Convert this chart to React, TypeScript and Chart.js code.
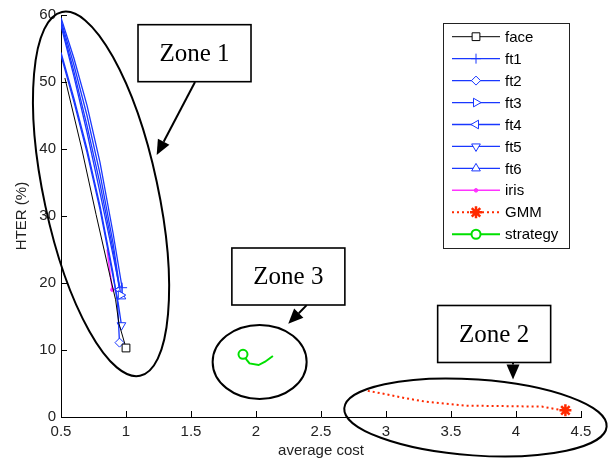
import React, { useEffect, useRef } from 'react';
import { Chart, registerables } from 'chart.js';
import { drawPoint } from 'chart.js/helpers';

Chart.register(...registerables);

// ---------- data ----------
const xTickValues = [0.5, 1, 1.5, 2, 2.5, 3, 3.5, 4, 4.5];
const yTickValues = [0, 10, 20, 30, 40, 50, 60];
const xTitle = 'average cost';
const yTitle = 'HTER (%)';

const faceX = [0.53, 0.66, 0.77, 0.88, 0.92, 0.945, 1.0];
const faceY = [50.6, 40.0, 30.2, 20.8, 17.5, 14.0, 10.3];

const ft1X = [0.5, 0.6, 0.7, 0.8, 0.9, 0.97];
const ft1Y = [59.6, 53.5, 46.5, 38, 27.5, 19.3];

const ft2X = [0.5, 0.6, 0.7, 0.8, 0.9, 0.935, 0.95];
const ft2Y = [54.4, 47.5, 40, 31.5, 21.5, 17, 11.1];

const ft3X = [0.5, 0.6, 0.7, 0.8, 0.9, 0.96];
const ft3Y = [59.2, 52.5, 45, 36.3, 26, 18.2];

const ft4X = [0.5, 0.6, 0.7, 0.8, 0.9, 0.95];
const ft4Y = [58.8, 51.5, 43.5, 34.8, 25, 19.0];

const ft5X = [0.5, 0.6, 0.7, 0.8, 0.9, 0.94, 0.965];
const ft5Y = [54.0, 47, 39.5, 31, 21, 17, 13.7];

const ft6X = [0.5, 0.6, 0.7, 0.8, 0.9, 0.965];
const ft6Y = [58.4, 50.8, 42.5, 33.5, 24.2, 18.0];

const irisX = [0.855, 0.875, 0.895];
const irisY = [25.0, 21.8, 19.0];

const gmmX = [2.86, 3.0, 3.15, 3.3, 3.45, 3.6, 3.8, 4.0, 4.2, 4.3, 4.38];
const gmmY = [3.9, 3.4, 2.8, 2.3, 2.0, 1.7, 1.65, 1.6, 1.55, 1.2, 1.0];

const strategyX = [1.9, 1.93, 1.95, 2.02, 2.07, 2.13];
const strategyY = [9.35, 8.5, 8.0, 7.75, 8.25, 9.1];

const zoneLabels = ['Zone 1', 'Zone 2', 'Zone 3'];

// ---------- styles / annotation geometry ----------
const BLUE = 'rgb(25,55,255)';
const zip = (xs: number[], ys: number[]) => xs.map((x, i) => ({ x, y: ys[i] }));

function series(label: string, xs: number[], ys: number[], st: any) {
  const markIdx = st.markAt === 'first' ? 0 : xs.length - 1;
  return {
    label,
    data: zip(xs, ys),
    borderColor: st.color,
    backgroundColor: st.fill,
    borderWidth: st.lineWidth,
    borderDash: st.dash || [],
    pointStyle: st.marker,
    pointRotation: st.rotation || 0,
    pointBorderColor: st.color,
    pointBackgroundColor: st.fill,
    pointBorderWidth: st.markerWidth,
    pointRadius: (c: any) => (c.dataIndex === markIdx ? st.radius : 0),
    pointHoverRadius: 0,
    markerRadius: st.radius,
    tension: 0,
    fill: false,
  };
}

const datasets = [
  series('face', faceX, faceY, { color: '#000', fill: '#fff', lineWidth: 1, marker: 'rect', radius: 5.5, markerWidth: 1 }),
  series('ft1', ft1X, ft1Y, { color: BLUE, fill: BLUE, lineWidth: 1.3, marker: 'cross', radius: 5, markerWidth: 1 }),
  series('ft2', ft2X, ft2Y, { color: BLUE, fill: '#fff', lineWidth: 1.3, marker: 'rectRot', radius: 4.5, markerWidth: 1 }),
  series('ft3', ft3X, ft3Y, { color: BLUE, fill: '#fff', lineWidth: 1.3, marker: 'triangle', rotation: 90, radius: 5, markerWidth: 1 }),
  series('ft4', ft4X, ft4Y, { color: BLUE, fill: '#fff', lineWidth: 1.3, marker: 'triangle', rotation: -90, radius: 5, markerWidth: 1 }),
  series('ft5', ft5X, ft5Y, { color: BLUE, fill: '#fff', lineWidth: 1.3, marker: 'triangle', rotation: 180, radius: 5, markerWidth: 1 }),
  series('ft6', ft6X, ft6Y, { color: BLUE, fill: '#fff', lineWidth: 1.3, marker: 'triangle', rotation: 0, radius: 5, markerWidth: 1 }),
  series('iris', irisX, irisY, { color: '#ff33ff', fill: '#ff33ff', lineWidth: 1.5, marker: 'circle', radius: 1.8, markerWidth: 1 }),
  series('GMM', gmmX, gmmY, { color: '#ff2a00', fill: '#ff2a00', lineWidth: 2, dash: [2, 3], marker: 'star', radius: 6, markerWidth: 2.5 }),
  series('strategy', strategyX, strategyY, { color: '#00e000', fill: '#fff', lineWidth: 2, marker: 'circle', radius: 4.5, markerWidth: 2, markAt: 'first' }),
];

// annotations: box centre & arrow in data units, sizes in px
const zoneBoxes = [
  { cx: 1.527, cy: 54.3, fromX: 1.531, fromY: 50.0, toX: 1.236, toY: 39.1 },
  { cx: 3.832, cy: 12.39, fromX: 3.977, fromY: 8.16, toX: 3.977, toY: 5.6 },
  { cx: 2.249, cy: 20.97, fromX: 2.39, fromY: 16.7, toX: 2.248, toY: 13.9 },
];
const zoneEllipses = [
  { cx: 0.808, cy: 33.3, rx: 186, ry: 57, rot: 77.9 },
  { cx: 3.688, cy: -0.07, rx: 131.5, ry: 38, rot: 4 },
  { cx: 2.028, cy: 8.21, rx: 47, ry: 37, rot: 0 },
];

const inwardTicks = {
  id: 'inwardTicks',
  afterDraw(chart: any) {
    const { ctx, chartArea, scales } = chart;
    const x = scales.x, y = scales.y;
    ctx.save();
    ctx.strokeStyle = '#000';
    ctx.lineWidth = 1;
    x.ticks.forEach((t: any) => {
      const px = Math.round(x.getPixelForValue(t.value)) + 0.5;
      ctx.beginPath();
      ctx.moveTo(px, chartArea.bottom);
      ctx.lineTo(px, chartArea.bottom - 6);
      ctx.stroke();
    });
    y.ticks.forEach((t: any) => {
      const py = Math.round(y.getPixelForValue(t.value)) + 0.5;
      ctx.beginPath();
      ctx.moveTo(chartArea.left, py);
      ctx.lineTo(chartArea.left + 6, py);
      ctx.stroke();
    });
    ctx.restore();
  },
};

function arrow(ctx: any, x1: number, y1: number, x2: number, y2: number) {
  const ang = Math.atan2(y2 - y1, x2 - x1);
  const len = 15, hw = 6.5;
  const bx = x2 - Math.cos(ang) * len, by = y2 - Math.sin(ang) * len;
  ctx.beginPath();
  ctx.moveTo(x1, y1);
  ctx.lineTo(bx, by);
  ctx.stroke();
  ctx.beginPath();
  ctx.moveTo(x2, y2);
  ctx.lineTo(bx + Math.sin(ang) * hw, by - Math.cos(ang) * hw);
  ctx.lineTo(bx - Math.sin(ang) * hw, by + Math.cos(ang) * hw);
  ctx.closePath();
  ctx.fill();
}

const zonesPlugin = {
  id: 'zones',
  afterDraw(chart: any) {
    const { ctx, scales } = chart;
    const x = scales.x, y = scales.y;
    ctx.save();
    ctx.strokeStyle = '#000';
    ctx.fillStyle = '#000';
    ctx.lineWidth = 2;
    zoneEllipses.forEach((e) => {
      ctx.beginPath();
      ctx.ellipse(x.getPixelForValue(e.cx), y.getPixelForValue(e.cy), e.rx, e.ry, (e.rot * Math.PI) / 180, 0, Math.PI * 2);
      ctx.stroke();
    });
    zoneBoxes.forEach((b, i) => {
      const cx = x.getPixelForValue(b.cx), cy = y.getPixelForValue(b.cy);
      const w = 113, h = 57;
      ctx.lineWidth = 2;
      arrow(ctx, x.getPixelForValue(b.fromX), y.getPixelForValue(b.fromY), x.getPixelForValue(b.toX), y.getPixelForValue(b.toY));
      ctx.fillStyle = '#fff';
      ctx.fillRect(cx - w / 2, cy - h / 2, w, h);
      ctx.lineWidth = 1.6;
      ctx.strokeRect(cx - w / 2, cy - h / 2, w, h);
      ctx.fillStyle = '#000';
      ctx.font = '25px "Liberation Serif"';
      ctx.textAlign = 'center';
      ctx.textBaseline = 'middle';
      ctx.fillText(zoneLabels[i], cx, cy + 1);
    });
    ctx.restore();
  },
};

const legendPlugin = {
  id: 'matlabLegend',
  afterDraw(chart: any) {
    const { ctx, chartArea } = chart;
    const w = 126, h = 225;
    const left = chartArea.right - 12 - w;
    const top = chartArea.top + 8;
    ctx.save();
    ctx.fillStyle = '#fff';
    ctx.fillRect(left, top, w, h);
    ctx.strokeStyle = '#222';
    ctx.lineWidth = 1;
    ctx.strokeRect(left + 0.5, top + 0.5, w, h);
    chart.data.datasets.forEach((ds: any, i: number) => {
      const yy = top + 13.7 + i * 21.95;
      ctx.save();
      ctx.strokeStyle = ds.borderColor;
      ctx.lineWidth = ds.borderWidth;
      ctx.setLineDash(ds.borderDash || []);
      ctx.beginPath();
      ctx.moveTo(left + 9, yy);
      ctx.lineTo(left + 57, yy);
      ctx.stroke();
      ctx.setLineDash([]);
      ctx.strokeStyle = ds.pointBorderColor;
      ctx.fillStyle = ds.pointBackgroundColor;
      ctx.lineWidth = ds.pointBorderWidth;
      drawPoint(ctx, { pointStyle: ds.pointStyle, rotation: ds.pointRotation, radius: ds.markerRadius, borderWidth: ds.pointBorderWidth } as any, left + 33, yy);
      ctx.restore();
      ctx.fillStyle = '#000';
      ctx.font = '15px "Liberation Sans"';
      ctx.textAlign = 'left';
      ctx.textBaseline = 'middle';
      ctx.fillText(ds.label, left + 62, yy + 1);
    });
    ctx.restore();
  },
};

export default function App() {
  const ref = useRef<HTMLCanvasElement>(null);
  useEffect(() => {
    if (!ref.current) return;
    Chart.defaults.font.family = '"Liberation Sans", Arial, sans-serif';
    const chart = new Chart(ref.current, {
      type: 'line',
      data: { datasets: datasets as any },
      options: {
        responsive: false,
        animation: false,
        devicePixelRatio: 1,
        layout: { padding: { top: 15, right: 35, left: 0, bottom: 0 } },
        plugins: { legend: { display: false }, tooltip: { enabled: false } },
        scales: {
          x: {
            type: 'linear',
            min: 0.5,
            max: 4.5,
            afterBuildTicks: (s: any) => { s.ticks = xTickValues.map((v) => ({ value: v })); },
            afterFit: (s: any) => { s.height = 44; },
            grid: { display: false, drawTicks: false },
            border: { display: true, color: '#000', width: 1 },
            ticks: { color: '#222', font: { size: 15 }, padding: 6, maxRotation: 0, autoSkip: false, callback: (v: any) => String(v) },
            title: { display: true, text: xTitle, color: '#222', font: { size: 15 }, padding: { top: 0, bottom: 1 } },
          },
          y: {
            type: 'linear',
            min: 0,
            max: 60,
            afterBuildTicks: (s: any) => { s.ticks = yTickValues.map((v) => ({ value: v })); },
            afterFit: (s: any) => { s.width = 61; },
            grid: { display: false, drawTicks: false },
            border: { display: true, color: '#000', width: 1 },
            ticks: { color: '#222', font: { size: 15 }, padding: 5, autoSkip: false, callback: (v: any) => String(v) },
            title: { display: true, text: yTitle, color: '#222', font: { size: 15 }, padding: { top: 13, bottom: 0 } },
          },
        },
      },
      plugins: [inwardTicks, zonesPlugin, legendPlugin],
    } as any);
    return () => chart.destroy();
  }, []);
  return (
    <div style={{ position: 'absolute', left: 0, top: 0, width: 616, height: 461, background: '#fff' }}>
      <canvas ref={ref} width={616} height={461} style={{ width: 616, height: 461, display: 'block' }} />
    </div>
  );
}
